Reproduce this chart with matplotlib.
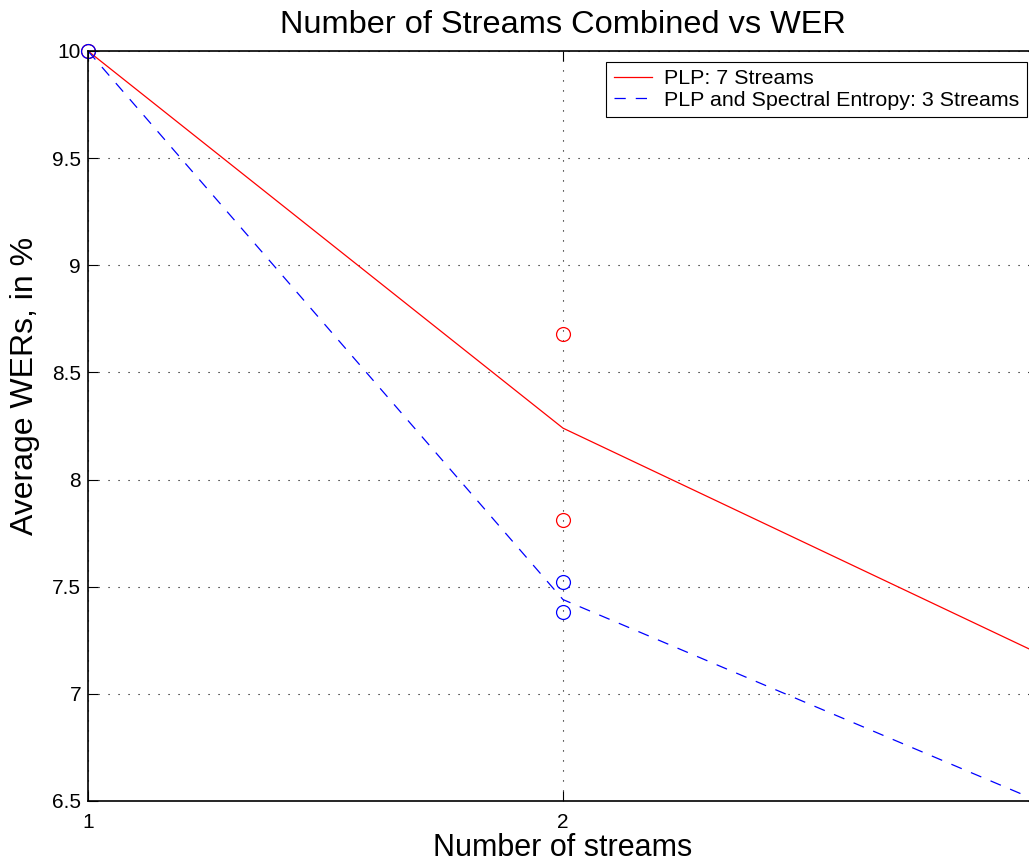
import matplotlib
matplotlib.use("Agg")
import matplotlib.pyplot as plt

# number of streams combined
n_streams = [1, 2, 3]
# average WER of the best combination (lines)
plp_wer = [10.0, 8.24, 7.19]
plp_se_wer = [10.0, 7.44, 6.50]
# individual combinations (circles)
plp_pts_x = [1, 2, 2]
plp_pts_y = [10.0, 8.68, 7.81]
plp_se_pts_x = [1, 2, 2]
plp_se_pts_y = [10.0, 7.52, 7.38]

plt.rcParams['font.family'] = ['Liberation Sans', 'DejaVu Sans']

fig = plt.figure(figsize=(10.29, 8.67), dpi=100)
ax = fig.add_axes([88/1029, 66/867, 950/1029, 750/867])

ax.plot(n_streams, plp_wer, color='red', lw=0.9, label='PLP: 7 Streams')
ax.plot(n_streams, plp_se_wer, color='blue', lw=0.9, linestyle=(0, (9, 8)),
        label='PLP and Spectral Entropy: 3 Streams')
ax.plot(plp_pts_x, plp_pts_y, 'o', mfc='none', mec='red', ms=10, mew=0.9, clip_on=False)
ax.plot(plp_se_pts_x, plp_se_pts_y, 'o', mfc='none', mec='blue', ms=10, mew=0.9, clip_on=False)

ax.set_xlim(1, 3)
ax.set_ylim(6.5, 10)
ax.set_xticks([1, 2])
ax.set_yticks([6.5, 7, 7.5, 8, 8.5, 9, 9.5, 10])
ax.set_yticklabels(['6.5', '7', '7.5', '8', '8.5', '9', '9.5', '10'])
ax.tick_params(direction='in', top=True, right=True, labelsize=15, length=7, width=0.8)
ax.tick_params(axis='x', pad=9)
ax.tick_params(axis='y', pad=5)
ax.grid(True, color='black', linestyle=(0, (1, 8)), lw=0.8)
for s in ax.spines.values():
    s.set_linewidth(1.2)

ax.set_title('Number of Streams Combined vs WER', fontsize=23.4, pad=13)
ax.set_xlabel('Number of streams', fontsize=22, labelpad=0.5)
ax.set_ylabel('Average WERs, in %', fontsize=23)
ax.yaxis.set_label_coords(-0.05, 0.553)

leg = ax.legend(loc='upper right', bbox_to_anchor=(1027/1029, 1 - 62/867),
                bbox_transform=fig.transFigure, fontsize=15.4, fancybox=False,
                framealpha=1, edgecolor='black', borderpad=0.35, labelspacing=0.1,
                handlelength=1.8, handletextpad=0.56, borderaxespad=0)
leg.get_frame().set_linewidth(0.8)

fig.savefig('out.png', dpi=100)
